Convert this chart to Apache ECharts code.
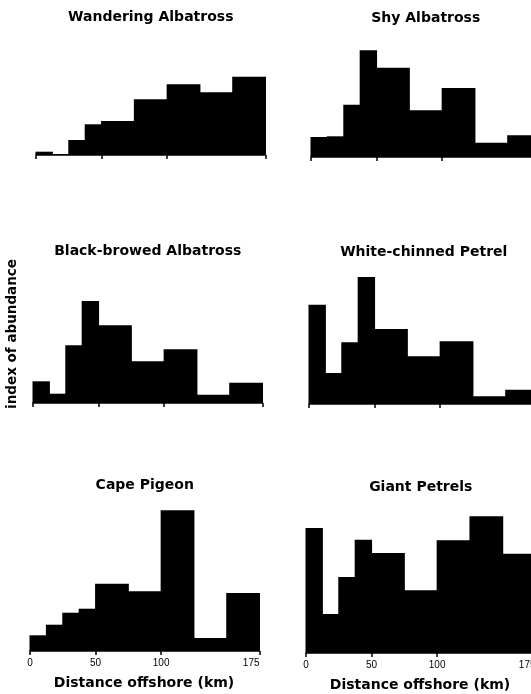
<!DOCTYPE html>
<html>
<head>
<meta charset="utf-8">
<script src="https://cdn.jsdelivr.net/npm/echarts@6/dist/echarts.min.js"></script>
<style>html,body{margin:0;padding:0;background:#fff}#c{width:531px;height:694px}</style>
</head>
<body>
<div id="c"></div>
<script>
// Distance bins (km)
var binStart = [0, 12.5, 25, 37.5, 50, 75, 100, 125, 150];
var binEnd   = [12.5, 25, 37.5, 50, 75, 100, 125, 150, 175];
var tickValues = [0, 50, 100, 175];
var species = ['Wandering Albatross', 'Shy Albatross', 'Black-browed Albatross', 'White-chinned Petrel', 'Cape Pigeon', 'Giant Petrels'];
// index of abundance (arbitrary units)
var wandering   = [3.3, 1, 15, 30.7, 34, 55.7, 70.7, 62.7, 78.3];
var shy         = [20, 20.7, 52.3, 106.7, 89.3, 46.7, 69, 14.3, 21.7];
var blackBrowed = [21.7, 9.3, 57.7, 102, 77.7, 41.7, 53.7, 8.3, 20.3];
var whiteChin   = [99.3, 31, 61.7, 127, 75, 47.7, 62.7, 7.7, 14.3];
var capePigeon  = [15.7, 26.3, 38.3, 42.3, 67.3, 59.7, 140.7, 13, 58];
var giantPetrel = [125, 39, 76, 113.3, 100, 62.7, 112.7, 136.7, 99.3];
var xTitle = 'Distance offshore (km)';
var yTitle = 'index of abundance';

var seriesValues = [wandering, shy, blackBrowed, whiteChin, capePigeon, giantPetrel];
// panel layout: [left, baseline]
var panels = [[36, 155], [311, 157], [33, 403], [309, 404], [30, 651], [306, 653]];
var titleY = [17, 18, 251, 252, 485, 487];
var W = 229.5, H = 150;

var grids = [], xAxes = [], yAxes = [], series = [], graphics = [];
for (var i = 0; i < 6; i++) {
  var p = panels[i];
  var bottomRow = i >= 4;
  grids.push({left: p[0], top: p[1] - H, width: W, height: H, outerBoundsMode: 'none', containLabel: false});
  xAxes.push({
    type: 'value', gridIndex: i, min: 0, max: 175,
    axisLine: {show: true, lineStyle: {color: '#000', width: 1.5}},
    axisTick: {show: true, customValues: tickValues, length: 4, lineStyle: {color: '#000', width: 1.5}},
    axisLabel: {show: bottomRow, customValues: tickValues, color: '#000', fontSize: 10,
      fontFamily: 'Liberation Sans', margin: 7, alignMaxLabel: 'right'},
    splitLine: {show: false}
  });
  yAxes.push({type: 'value', gridIndex: i, min: 0, max: H, show: false, splitLine: {show: false}});
  var data = [];
  for (var j = 0; j < binStart.length; j++) data.push([binStart[j], binEnd[j], seriesValues[i][j]]);
  series.push({
    type: 'custom', xAxisIndex: i, yAxisIndex: i, data: data,
    encode: {x: [0, 1], y: 2},
    renderItem: function (params, api) {
      var a = api.coord([api.value(0), 0]);
      var b = api.coord([api.value(1), api.value(2)]);
      return {type: 'rect', shape: {x: a[0] - 0.5, y: b[1], width: b[0] - a[0] + 1, height: a[1] - b[1]},
        style: {fill: '#000'}};
    }
  });
  graphics.push({type: 'text', x: p[0] + W / 2, y: titleY[i],
    style: {text: species[i], fill: '#000', font: 'bold 14px "DejaVu Sans"', textAlign: 'center', textVerticalAlign: 'middle'}});
}
graphics.push({type: 'text', x: 144, y: 683,
  style: {text: xTitle, fill: '#000', font: 'bold 14px "DejaVu Sans"', textAlign: 'center', textVerticalAlign: 'middle'}});
graphics.push({type: 'text', x: 420, y: 685,
  style: {text: xTitle, fill: '#000', font: 'bold 14px "DejaVu Sans"', textAlign: 'center', textVerticalAlign: 'middle'}});
graphics.push({type: 'text', x: 12, y: 334, rotation: Math.PI / 2,
  style: {text: yTitle, fill: '#000', font: 'bold 13.5px "DejaVu Sans"', textAlign: 'center', textVerticalAlign: 'middle'}});

var chart = echarts.init(document.getElementById('c'), null, {renderer: 'canvas'});
chart.setOption({
  animation: false,
  backgroundColor: '#fff',
  grid: grids, xAxis: xAxes, yAxis: yAxes, series: series,
  graphic: graphics
});
</script>
</body>
</html>
